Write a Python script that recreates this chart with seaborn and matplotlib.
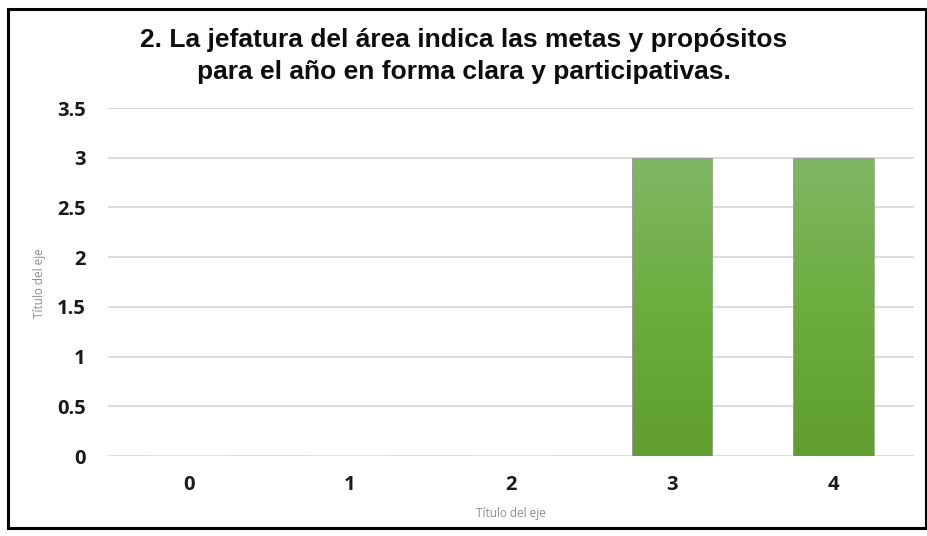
import numpy as np
import pandas as pd
import matplotlib
matplotlib.use("Agg")
import matplotlib.pyplot as plt
import seaborn as sns
from matplotlib.patches import Rectangle
from matplotlib.colors import LinearSegmentedColormap

categories = ["0", "1", "2", "3", "4"]
values = [0, 0, 0, 3, 3]
yticks = [0, 0.5, 1, 1.5, 2, 2.5, 3, 3.5]
ytick_labels = ["0", "0.5", "1", "1.5", "2", "2.5", "3", "3.5"]
title = "2. La jefatura del área indica las metas y propósitos\npara el año en forma clara y participativas."
axis_title = "Título del eje"

sns.set_theme(style="white")
plt.rcParams['font.family'] = ['Open Sans', 'DejaVu Sans']

fig = plt.figure(figsize=(9.28, 5.36), dpi=100)
ax = fig.add_axes([108/928, 1 - 456/536, (914-108)/928, (456-108)/536])

df = pd.DataFrame({"cat": categories, "val": values})
sns.barplot(data=df, x="cat", y="val", ax=ax, color="#6aa83c", width=0.5, saturation=1)

grad = np.linspace(0, 1, 256).reshape(-1, 1)
cmap = LinearSegmentedColormap.from_list("g", ["#5f9e2f", "#6cad3e", "#80b764"])
for p in ax.patches:
    h = p.get_height()
    if h <= 0:
        continue
    x0 = p.get_x(); w = p.get_width()
    im = ax.imshow(grad, extent=[x0, x0 + w, 0, h], origin="lower", cmap=cmap,
                   aspect="auto", zorder=3)
    im.set_clip_path(p)
    p.set_facecolor("none")
    p.set_edgecolor("#a0a0a0")
    p.set_linewidth(0.6)
    p.set_zorder(4)

ax.set_xlim(-0.5, 4.5)
ax.set_ylim(0, 3.5)
ax.set_yticks(yticks)
ax.set_yticklabels(ytick_labels)
ax.yaxis.grid(True, color="#d9d9d9", linewidth=1.3)
ax.set_axisbelow(True)
for s in ax.spines.values():
    s.set_visible(False)
ax.tick_params(axis="both", length=0, labelsize=14.5, colors="#1a1a1a")
ax.tick_params(axis="y", pad=16)
ax.tick_params(axis="x", pad=14)
for lab in ax.get_xticklabels() + ax.get_yticklabels():
    lab.set_fontweight("bold")
ax.set_xlabel("")
ax.set_ylabel("")

fig.text(511/928, 1 - 513/536, axis_title, ha="center", va="center", fontsize=8.5, color="#8c8c8c")
fig.text(40/928, 1 - 283/536, axis_title, ha="center", va="center", fontsize=8.5, color="#8c8c8c", rotation=90)

fig.text(464/928, 1 - 56/536, title, ha="center", va="center", fontsize=19, fontweight="bold",
         family=["Liberation Sans", "DejaVu Sans"], color="#0d0d0d", linespacing=1.45)

fig.patches.append(Rectangle((8/928, 1 - 528/536), (926-8)/928, (528-9)/536,
                             transform=fig.transFigure, fill=False, edgecolor="black", linewidth=2.2))

fig.savefig("out.png", dpi=100, facecolor="white")
